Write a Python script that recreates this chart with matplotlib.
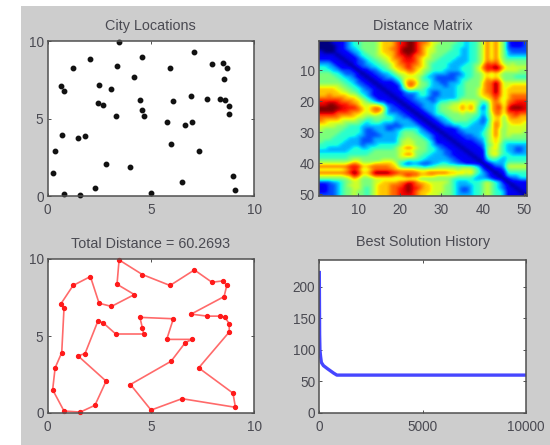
import matplotlib
matplotlib.use("Agg")
import matplotlib.pyplot as plt
import numpy as np
from matplotlib.patches import Rectangle

plt.rcParams["font.family"] = ["Liberation Sans", "DejaVu Sans"]

# cities in tour order
city_x = [3.46, 4.59, 5.93, 7.11, 7.96, 8.50, 8.68, 8.55, 6.95, 7.74, 8.34, 8.59,
          8.80, 8.80, 7.32, 8.98, 9.10, 6.51, 5.01, 4.01, 5.98, 6.67, 7.00, 5.77,
          6.09, 4.47, 4.59, 4.65, 3.30, 2.70, 2.44, 1.81, 1.47, 2.83, 2.29, 1.58,
          0.79, 0.24, 0.36, 0.68, 0.79, 0.63, 1.23, 2.07, 2.49, 3.09, 4.20, 3.36]
city_y = [9.94, 8.99, 8.28, 9.29, 8.49, 8.58, 8.28, 7.56, 6.42, 6.29, 6.29, 6.21,
          5.80, 5.26, 2.93, 1.29, 0.37, 0.93, 0.19, 1.85, 3.36, 4.57, 4.78, 4.78,
          6.12, 6.21, 5.52, 5.13, 5.13, 5.84, 5.99, 3.86, 3.71, 2.07, 0.50, 0.06,
          0.13, 1.51, 2.93, 3.92, 6.79, 7.07, 8.28, 8.86, 7.13, 6.92, 7.69, 8.36]

# distance matrix, upper triangle, colour read per cell on a 0-10 scale
matrix_rows = [
    [0,0,0,1,1,1,2,3,4,4, 5,5,5,5,6,7,7,7,8,9, 9,10,10,9,8,8,7,6,6,5, 5,5,5,4,4,3,4,4,5,6, 8,6,8,6,5,2,1,1,1,2],
    [0,0,0,1,1,2,3,4,4, 5,5,5,5,6,7,7,7,8,9, 9,10,10,9,8,7,7,6,5,5, 5,5,4,4,4,3,4,4,5,6, 8,6,8,6,5,2,1,1,1,2],
    [0,0,1,1,2,3,3,4, 5,5,5,5,6,7,7,8,8,9, 10,10,10,9,8,7,6,6,5,5, 5,5,4,4,3,3,4,4,5,6, 8,6,8,6,5,2,2,2,2,2],
    [0,1,1,1,2,3,3, 4,5,5,5,6,7,7,7,8,9, 10,10,10,9,8,7,6,6,5,5, 5,4,4,4,3,3,4,4,5,6, 8,6,8,6,5,3,2,2,2,2],
    [0,1,1,1,2,3, 4,4,5,5,6,6,7,7,8,9, 9,10,9,8,8,7,6,5,5,5, 4,4,4,4,3,3,4,4,5,6, 8,6,8,6,5,3,3,3,3,3],
    [0,1,1,1,2, 3,4,4,5,5,6,6,7,8,8, 9,9,9,8,7,6,6,5,5,4, 4,4,4,3,3,3,4,4,5,6, 8,6,8,6,5,4,4,4,4,4],
    [0,1,1,2, 2,3,4,4,5,5,6,7,7,8, 9,9,9,8,7,6,5,5,4,4, 4,4,3,3,3,3,4,4,5,6, 8,7,8,7,5,5,5,5,5,5],
    [0,1,2, 2,3,3,4,4,5,5,6,7,8, 8,9,8,8,7,6,5,4,4,4, 4,3,3,3,3,4,4,5,5,7, 9,8,9,7,6,5,6,5,5,5],
    [0,1, 2,2,3,3,4,4,5,6,7,7, 8,9,8,7,7,6,5,4,4,4, 4,3,3,3,4,4,4,5,6,8, 9,9,10,9,7,6,6,6,6,6],
    [0, 1,1,2,2,3,4,4,5,6,7, 7,8,8,7,6,5,5,4,4,4, 3,3,3,3,4,4,4,5,6,7, 9,8,9,8,6,6,6,6,5,5],
    [0,1,1,2,2,3,3,4,5,6, 6,7,7,6,6,5,4,3,3,3, 3,2,2,2,3,4,4,5,5,6, 7,6,7,6,5,5,5,5,5,5],
    [0,1,1,2,2,3,3,4,5, 6,6,6,6,5,4,3,3,2,2, 2,2,2,3,3,4,4,5,5,6, 7,6,7,6,5,5,5,4,4,4],
    [0,1,1,2,2,2,3,4, 6,7,7,6,5,4,4,3,2,2, 2,2,2,3,4,4,5,5,5,6, 8,7,8,7,5,5,5,5,5,5],
    [0,1,1,1,1,2,3, 6,8,8,7,5,5,4,3,3,2, 2,3,3,3,4,5,5,5,5,7, 8,8,10,8,6,6,6,6,6,6],
    [0,1,1,1,1,2, 5,8,8,6,5,5,4,3,3,3, 2,3,3,4,4,5,5,5,5,7, 8,8,10,8,6,6,7,7,7,7],
    [0,1,1,1,2, 4,6,6,5,5,4,3,3,3,3, 3,3,3,4,4,5,5,5,6,7, 8,8,10,8,6,7,7,7,7,7],
    [0,1,1,1, 2,3,3,3,4,4,3,2,2,3, 3,3,3,4,4,5,5,5,6,7, 8,8,10,8,6,7,7,7,7,7],
    [0,1,1, 2,2,2,3,4,4,3,2,2,3, 3,3,3,4,4,5,5,5,6,7, 7,8,9,8,6,7,8,8,8,8],
    [0,1, 1,2,2,3,3,3,2,2,3,3, 3,3,3,4,5,5,5,5,5,6, 7,7,9,7,6,7,8,8,8,8],
    [0, 1,1,2,2,3,3,3,2,3,4, 4,5,5,5,6,6,6,6,5,4, 5,7,8,7,6,8,8,9,9,9],
    [0,1,1,2,2,3,3,3,4,5, 5,5,6,6,7,6,7,6,5,3, 4,7,8,8,6,8,9,9,9,9],
    [0,1,1,2,3,3,3,4,5, 5,6,6,6,8,6,8,6,4,2, 4,7,8,9,6,9,10,10,10,9],
    [0,1,1,2,3,3,4,5, 5,5,6,6,7,6,7,6,4,3, 4,7,8,8,6,9,9,9,9,9],
    [0,1,1,2,3,4,4, 5,5,5,5,6,5,5,5,4,3, 4,6,8,8,6,8,8,9,8,8],
    [0,1,1,2,3,3, 4,5,5,5,5,5,5,4,4,2, 4,6,7,7,5,7,8,8,7,7],
    [0,1,1,2,3, 3,4,5,5,5,5,4,4,3,2, 3,6,7,7,5,7,7,7,7,7],
    [0,1,1,2, 3,3,4,4,4,4,4,3,3,2, 4,6,8,7,5,6,7,7,7,6],
    [0,1,1, 2,2,3,3,4,4,3,3,3,3, 4,6,8,7,5,6,6,6,6,6],
    [0,1, 1,1,1,2,3,3,3,3,3,3, 5,6,8,6,5,6,6,6,6,6],
    [0, 1,1,1,2,2,3,3,3,3,4, 5,6,8,6,5,6,6,6,6,5],
    [0,1,1,1,2,2,2,3,3,4, 5,6,8,6,5,6,5,5,5,5],
    [0,1,1,1,2,2,2,3,3, 5,6,7,6,5,5,5,5,5,5],
    [0,1,1,1,1,2,2,3, 5,6,7,6,4,4,4,4,4,4],
    [0,1,1,1,1,2,2, 5,5,7,5,4,3,3,3,3,3],
    [0,1,1,1,1,2, 5,6,7,5,4,3,3,2,2,3],
    [0,1,1,1,1, 5,6,6,5,4,3,3,2,2,3],
    [0,1,1,1, 5,6,7,5,4,4,3,3,3,3],
    [0,1,1, 4,5,5,4,3,4,4,4,4,4],
    [0,1, 3,4,4,3,3,4,4,4,4,4],
    [0, 1,2,3,3,3,5,5,5,5,5],
    [0,1,2,2,3,6,6,6,6,6],
    [0,1,1,2,5,5,5,5,5],
    [0,1,1,4,4,4,4,4],
    [0,1,3,3,3,4,4],
    [0,1,2,2,3,3],
    [0,1,1,1,1],
    [0,1,1,1],
    [0,1,1],
    [0,1],
    [0],
]

# best solution history
history_x = [0, 15, 30, 60, 100, 200, 400, 700, 850, 10000]
history_y = [225, 125, 100, 90, 80, 75, 70, 63, 60, 60]

total_distance = "Total Distance = 60.2693"
xy_ticks = [0, 5, 10]
matrix_ticks = [10, 20, 30, 40, 50]
history_xticks = [0, 5000, 10000]
history_yticks = [0, 50, 100, 150, 200]

W, H = 550, 445
BG = "#cdcdcd"
TXT = "#4a4a52"
EDGE = "#505050"
TITLE_SIZE = 10.4


def make_axes(left, right, top, bottom):
    ax = fig.add_axes([left / W, 1 - bottom / H, (right - left) / W, (bottom - top) / H])
    ax.tick_params(direction="in", length=2, width=0.7, colors=EDGE, labelcolor=TXT,
                   labelsize=9.8, top=True, right=True, pad=3)
    ax.tick_params(axis="x", pad=5)
    for s in ax.spines.values():
        s.set_color(EDGE)
        s.set_linewidth(1.1)
    return ax


fig = plt.figure(figsize=(W / 100, H / 100), dpi=100, facecolor="white")
fig.patches.append(Rectangle((21 / W, 0), 1 - 21 / W, 1 - 6 / H, transform=fig.transFigure,
                             facecolor=BG, edgecolor="none", zorder=-10))

# cities
ax = make_axes(47.7, 254, 41, 196)
ax.plot(city_x, city_y, ls="none", marker="o", ms=3.2, color="#111111", clip_on=False)
ax.set_xlim(0, 10)
ax.set_ylim(0, 10)
ax.set_xticks(xy_ticks)
ax.set_yticks(xy_ticks)
ax.set_title("City Locations", fontsize=TITLE_SIZE, color=TXT, pad=8)

# distance matrix
grid = np.zeros((50, 50))
for i, row in enumerate(matrix_rows):
    grid[i, i:] = row
    grid[i:, i] = row
ax = make_axes(319, 526.5, 41, 196)
ax.imshow(grid, cmap="jet", vmin=0, vmax=10, aspect="auto", interpolation="bicubic",
          extent=(0.5, 50.5, 50.5, 0.5))
ax.set_xticks(matrix_ticks)
ax.set_yticks(matrix_ticks)
ax.set_title("Distance Matrix", fontsize=TITLE_SIZE, color=TXT, pad=8)

# tour
ax = make_axes(47.7, 254, 259, 413)
tour_x = city_x + city_x[:1]
tour_y = city_y + city_y[:1]
ax.plot(tour_x, tour_y, color="#ff6a6a", lw=1.2, clip_on=False)
ax.plot(city_x, city_y, ls="none", marker="o", ms=2.8, color="#ff1a1a", clip_on=False)
ax.set_xlim(0, 10)
ax.set_ylim(0, 10)
ax.set_xticks(xy_ticks)
ax.set_yticks(xy_ticks)
ax.set_title(total_distance, fontsize=TITLE_SIZE, color=TXT, pad=8)

# history
ax = make_axes(319.3, 526, 259.5, 413)
ax.plot(history_x, history_y, color="#4646ff", lw=2.4, solid_capstyle="butt")
ax.set_xlim(0, 10000)
ax.set_ylim(0, 243)
ax.set_xticks(history_xticks)
ax.set_yticks(history_yticks)
ax.set_title("Best Solution History", fontsize=TITLE_SIZE, color=TXT, pad=10)

fig.savefig("out.png", dpi=100, facecolor=fig.get_facecolor())
